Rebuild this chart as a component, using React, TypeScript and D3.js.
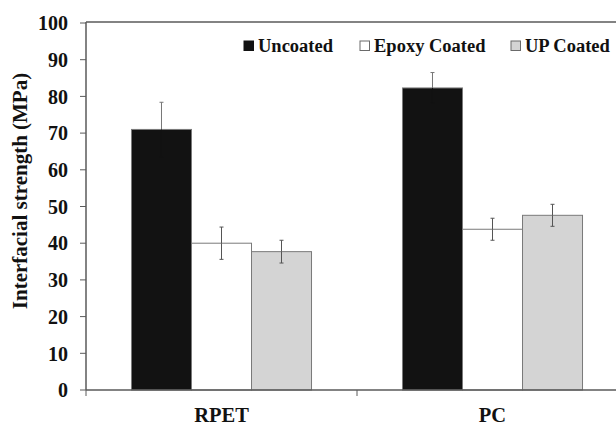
import React from "react";
import * as d3 from "d3";

const categories = ["RPET", "PC"];
const seriesNames = ["Uncoated", "Epoxy Coated", "UP Coated"];
const uncoated = [71, 82.3];
const uncoatedErr = [7.4, 4.2];
const epoxyCoated = [40, 43.8];
const epoxyErr = [4.4, 3.0];
const upCoated = [37.7, 47.6];
const upErr = [3.1, 3.0];
const yTicks = [0, 10, 20, 30, 40, 50, 60, 70, 80, 90, 100];

const W = 616;
const H = 425;
const FONT = '"Liberation Serif", "DejaVu Serif", "Noto Serif", "Times New Roman", Times, serif';

const fills = ["#121212", "#ffffff", "#d4d4d4"];
// lower whisker colour per series (the black bar hides its lower whisker)
const lowerWhisker = ["#121212", "#555", "#555"];

export default function App() {
  const left = 86;
  const top = 23;
  const bottom = 390;
  const bandW = 271;

  const x0 = d3
    .scaleBand<string>()
    .domain(categories)
    .range([left, left + bandW * categories.length])
    .paddingInner(0)
    .paddingOuter(0);
  const x1 = d3
    .scaleBand<string>()
    .domain(seriesNames)
    .range([0, x0.bandwidth()])
    .paddingInner(0)
    .paddingOuter(0.758);
  const y = d3.scaleLinear().domain([0, 100]).range([bottom, top]);

  const values = [uncoated, epoxyCoated, upCoated];
  const errs = [uncoatedErr, epoxyErr, upErr];

  const axisColor = "#5a5a5a";
  const right = x0.range()[1];

  const legendItems = [
    { x: 244, label: seriesNames[0] },
    { x: 360, label: seriesNames[1] },
    { x: 511, label: seriesNames[2] },
  ];

  const textStyle = { fontFamily: FONT, fontWeight: 700 } as React.CSSProperties;

  return (
    <svg
      width={W}
      height={H}
      style={{ position: "absolute", left: 0, top: 0, background: "#fff", fontFamily: FONT }}
    >
      <rect x={0} y={0} width={W} height={H} fill="#fff" />

      {/* bars */}
      {categories.map((c, ci) => (
        <g key={c} transform={`translate(${x0(c)},0)`}>
          {seriesNames.map((s, si) => {
            const v = values[si][ci];
            const bx = x1(s)!;
            return (
              <rect
                key={s}
                x={bx}
                y={y(v)}
                width={x1.bandwidth()}
                height={y(0) - y(v)}
                fill={fills[si]}
                stroke="#7a7a7a"
                strokeWidth={1}
              />
            );
          })}
          {seriesNames.map((s, si) => {
            const v = values[si][ci];
            const e = errs[si][ci];
            const cx = x1(s)! + x1.bandwidth() / 2;
            const up = si === 0 ? "#777" : "#555";
            const lo = lowerWhisker[si];
            return (
              <g key={s + "-err"} strokeWidth={1}>
                <line x1={cx} x2={cx} y1={y(v + e)} y2={y(v)} stroke={up} />
                <line x1={cx - 2} x2={cx + 2} y1={y(v + e)} y2={y(v + e)} stroke={up} />
                <line x1={cx} x2={cx} y1={y(v)} y2={y(v - e)} stroke={lo} />
                <line x1={cx - 2} x2={cx + 2} y1={y(v - e)} y2={y(v - e)} stroke={lo} />
              </g>
            );
          })}
        </g>
      ))}

      {/* plot frame: top border, left axis, bottom axis */}
      <line x1={left} x2={right} y1={top - 1} y2={top - 1} stroke={axisColor} strokeWidth={1.5} />
      <line x1={left} x2={left} y1={top - 1} y2={bottom} stroke={axisColor} strokeWidth={1.5} />
      <line x1={left} x2={right} y1={bottom} y2={bottom} stroke={axisColor} strokeWidth={1.5} />

      {/* y ticks */}
      {yTicks.map((t) => (
        <g key={t}>
          <line x1={left - 6} x2={left} y1={y(t)} y2={y(t)} stroke={axisColor} strokeWidth={1} />
          <text
            x={68}
            y={y(t)}
            dy="0.36em"
            textAnchor="end"
            fontSize={20}
            style={textStyle}
            fill="#111"
          >
            {t}
          </text>
        </g>
      ))}

      {/* category ticks */}
      {[...categories.map((c) => x0(c)!), right].map((xv, i) => (
        <line key={i} x1={xv} x2={xv} y1={bottom} y2={bottom + 6} stroke={axisColor} strokeWidth={1} />
      ))}

      {categories.map((c) => (
        <text
          key={c}
          x={x0(c)! + x0.bandwidth() / 2}
          y={422}
          textAnchor="middle"
          fontSize={20.5}
          style={textStyle}
          fill="#111"
        >
          {c}
        </text>
      ))}

      {/* y axis title */}
      <text
        transform={`translate(27,191) rotate(-90)`}
        textAnchor="middle"
        fontSize={21}
        style={textStyle}
        fill="#111"
      >
        Interfacial strength (MPa)
      </text>

      {/* legend */}
      {legendItems.map((it, i) => (
        <g key={it.label}>
          <rect
            x={it.x}
            y={41}
            width={9.5}
            height={9.5}
            fill={fills[i]}
            stroke={i === 0 ? "#121212" : "#6a6a6a"}
            strokeWidth={1}
          />
          <text x={it.x + 14} y={52} fontSize={18.5} style={textStyle} fill="#111">
            {it.label}
          </text>
        </g>
      ))}
    </svg>
  );
}
